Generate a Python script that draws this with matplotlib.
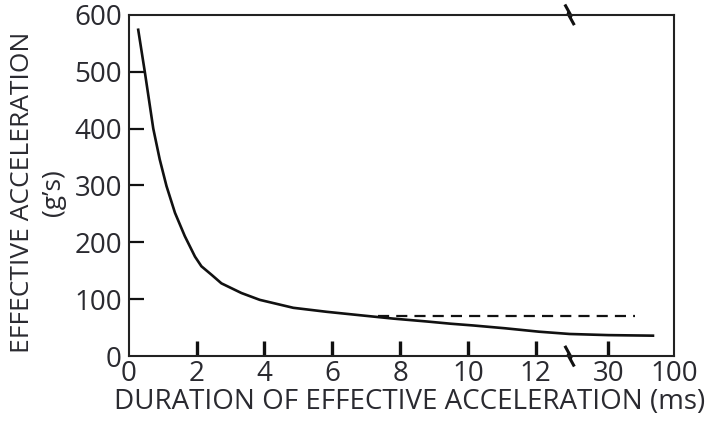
import numpy as np
import matplotlib
matplotlib.use("Agg")
import matplotlib.pyplot as plt
import matplotlib.transforms as mtransforms

# tolerance curve (duration in ms, acceleration in g)
duration = [0.27, 0.47, 0.72, 0.91, 1.11, 1.36, 1.65, 1.95, 2.14, 2.44, 2.73,
            3.32, 3.86, 4.85, 5.83, 6.81, 7.8, 8.78, 9.5, 10.15, 11.1, 12.1,
            13.0, 30.0, 79.0]
accel = [576, 500, 400, 346, 299, 252, 211, 175, 158, 143, 128,
         111, 99, 85, 78, 72, 66, 61, 57, 54, 49, 43,
         39, 37, 36]

# dashed limit line
dash_x = [7.35, 59.0]
dash_y = [71, 71]

xticks = [0, 2, 4, 6, 8, 10, 12, 30, 100]
xtick_labels = ["0", "2", "4", "6", "8", "10", "12", "30", "100"]
yticks = [0, 100, 200, 300, 400, 500, 600]

# broken x axis: linear up to the break, then compressed
ms_knots = [0, 13, 30, 100]
pos_knots = [0, 13, 14.14, 16.08]
x_break = 13


def fwd(x):
    return np.interp(x, ms_knots, pos_knots)


def inv(p):
    return np.interp(p, pos_knots, ms_knots)


plt.rcParams['font.family'] = ['Open Sans', 'DejaVu Sans']
txt = '#2a2a30'

fig = plt.figure(figsize=(7.08, 4.23), dpi=100)
ax = fig.add_axes([0.182, 0.158, 0.770, 0.807])
ax.set_xscale('function', functions=(fwd, inv))

ax.plot(duration, accel, color='#111111', lw=1.9, solid_capstyle='butt')
ax.plot(dash_x, dash_y, color='#111111', lw=1.6, dashes=(5, 3.2))

ax.set_xlim(0, 100)
ax.set_ylim(0, 600)
ax.set_xticks(xticks)
ax.set_xticklabels(xtick_labels)
ax.set_yticks(yticks)
ax.minorticks_off()

ax.tick_params(axis='x', direction='in', length=11, width=2.4, pad=3,
               labelsize=20, labelcolor=txt, color='#111111')
ax.tick_params(axis='y', direction='in', length=11, width=1.6, pad=5,
               labelsize=20, labelcolor=txt, color='#111111')
# no marks at the corners, only labels
for t in (ax.xaxis.get_major_ticks()[0], ax.xaxis.get_major_ticks()[-1],
          ax.yaxis.get_major_ticks()[0], ax.yaxis.get_major_ticks()[-1]):
    t.tick1line.set_visible(False)
for s in ax.spines.values():
    s.set_linewidth(1.5)
    s.set_color('#222222')

ax.set_xlabel("DURATION OF EFFECTIVE ACCELERATION (ms)", fontsize=20,
              color=txt, labelpad=0)
ax.xaxis.label.set_x(0.515)
ax.set_ylabel("EFFECTIVE ACCELERATION\n(g\u2019s)", fontsize=19, color=txt,
              linespacing=1.3, labelpad=6)
ax.yaxis.label.set_y(0.48)

# break marks on top and bottom spines (offsets in pixels)
trans = mtransforms.blended_transform_factory(ax.transData, ax.transAxes)
zz_px_x = np.array([-4.0, 1.5, -1.5, 4.0])
zz_px_y = np.array([9.0, -1.0, 1.0, -9.0])
ax_w_px = 0.770 * 708
ax_h_px = 0.807 * 423
px_per_pos = ax_w_px / fwd(100)
for base in (0, 1):
    ax.plot(inv(fwd(x_break) + zz_px_x / px_per_pos), base + zz_px_y / ax_h_px,
            color='#111111', lw=2.2, transform=trans, clip_on=False)

fig.savefig("out.png", dpi=100)
